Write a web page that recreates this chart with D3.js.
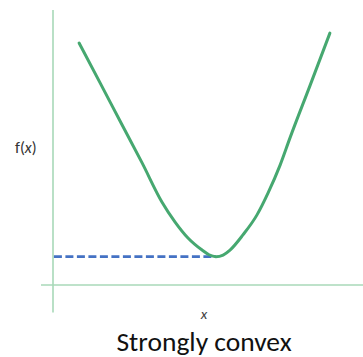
<!DOCTYPE html>
<html>
<head>
<meta charset="utf-8">
<script src="https://cdn.jsdelivr.net/npm/d3@7"></script>
<style>
  html, body { margin: 0; padding: 0; background: #fff; }
  svg { display: block; }
</style>
</head>
<body>
<svg id="chart" width="363" height="357"></svg>
<script>
// Sampled points of the convex function f(x)
const xValues = [0.87, 1.57, 2.27, 2.97, 3.63, 4.07, 4.5, 4.97, 5.2, 5.43, 5.67,
                 5.9, 6.33, 6.8, 7.17, 7.57, 7.9, 8.57, 9.23];
const fValues = [8.8, 7.35, 5.89, 4.44, 3.02, 2.29, 1.71, 1.27, 1.1, 1.03, 1.09,
                 1.27, 1.82, 2.55, 3.35, 4.36, 5.35, 7.26, 9.16];
// Minimum of f and where it is reached
const minX = 5.43;
const minF = 1.03;
const title = "Strongly convex";

const svg = d3.select("#chart");
const x = d3.scaleLinear().domain([0, 10]).range([53, 353]);
const y = d3.scaleLinear().domain([0, 10]).range([285, 10]);

const axisColor = "#a8d9b8";

// Axes (plain lines, no ticks)
svg.append("line")
  .attr("x1", x(0)).attr("x2", x(0))
  .attr("y1", y(10)).attr("y2", y(-1.0))
  .attr("stroke", axisColor).attr("stroke-width", 1.6);
svg.append("line")
  .attr("x1", x(-0.4)).attr("x2", x(10.4))
  .attr("y1", y(0)).attr("y2", y(0))
  .attr("stroke", axisColor).attr("stroke-width", 1.6);

// Dashed level of the minimum
svg.append("line")
  .attr("x1", x(0.03)).attr("x2", x(minX))
  .attr("y1", y(minF)).attr("y2", y(minF))
  .attr("stroke", "#4472c4").attr("stroke-width", 2.6)
  .attr("stroke-dasharray", "8,3.5");

// The function curve
const pts = xValues.map((v, i) => [v, fValues[i]]);
const line = d3.line()
  .x(d => x(d[0])).y(d => y(d[1]))
  .curve(d3.curveMonotoneX);
svg.append("path")
  .datum(pts)
  .attr("d", line)
  .attr("fill", "none")
  .attr("stroke", "#46a870")
  .attr("stroke-width", 3)
  .attr("stroke-linecap", "round");

// Labels
const fl = svg.append("text")
  .attr("x", 15).attr("y", 153)
  .attr("font-family", "Carlito, Lato, 'Open Sans', sans-serif")
  .attr("font-size", 16).attr("fill", "#333");
fl.append("tspan").text("f(");
fl.append("tspan").attr("font-style", "italic").text("x");
fl.append("tspan").text(")");

svg.append("text")
  .attr("x", 204).attr("y", 319)
  .attr("text-anchor", "middle")
  .attr("font-family", "Carlito, Lato, 'Open Sans', sans-serif")
  .attr("font-style", "italic")
  .attr("font-size", 15).attr("fill", "#444")
  .text("x");

svg.append("text")
  .attr("x", 204).attr("y", 351)
  .attr("text-anchor", "middle")
  .attr("font-family", "Carlito, Lato, 'Open Sans', sans-serif")
  .attr("font-size", 27.5).attr("fill", "#111")
  .text(title);
</script>
</body>
</html>
